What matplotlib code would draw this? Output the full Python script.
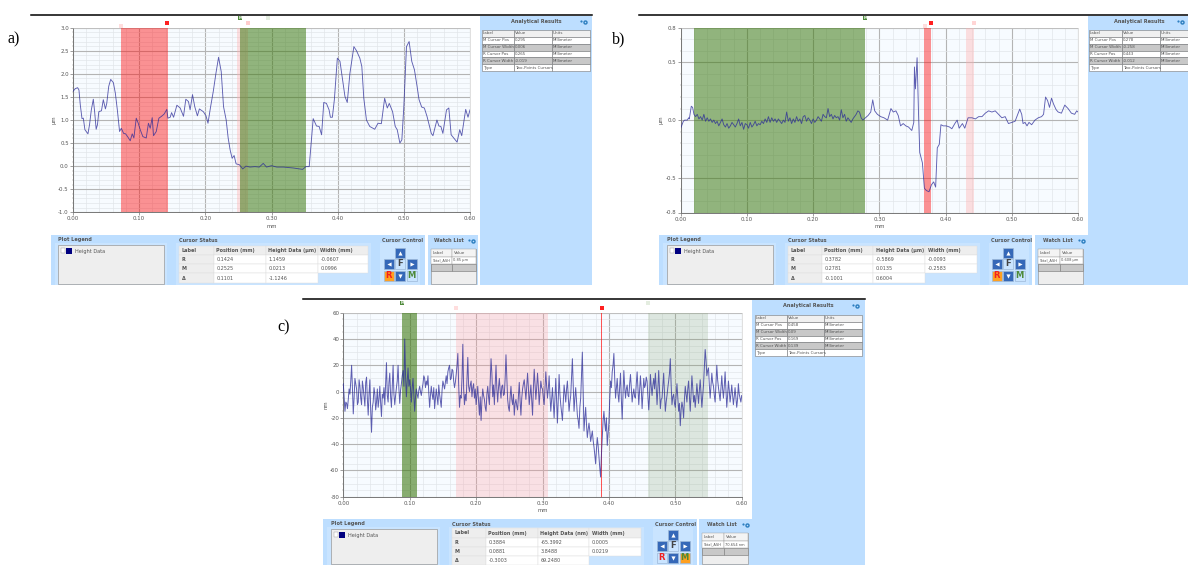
import numpy as np
import matplotlib
matplotlib.use("Agg")
import matplotlib.pyplot as plt
from matplotlib.patches import Rectangle

# ==============================
# Profile data
# ==============================
a_x = [0, .0035, .007, .009, .011, .0136, .0156, .018, .020, .0226, .025, .0277, .0307, .0327, .035, .037, .039, .043, .0458,
       .049, .051, .054, .057, .061, .064, .067, .0704, .073, .0765, .0795, .0825, .0865, .0895, .092, .0956, .0986, .1016,
       .1056, .1107, .114, .1167, .1197, .1217, .1258, .1298, .1338, .1378, .1418, .1434, .1469, .149, .152, .157, .162,
       .167, .1705, .1745, .177, .1806, .184, .188, .191, .197, .201, .204, .208, .212, .216, .220, .224, .2275, .2315,
       .2345, .2375, .2405, .2435, .2465, .2515, .2565, .2615, .2675, .275, .2815, .2875, .2925, .300, .308, .318, .333,
       .347, .352, .357, .363, .368, .372, .3757, .379, .383, .387, .389, .392, .395, .3995, .4035, .4075, .411, .4145,
       .4185, .4245, .4285, .4335, .4365, .4395, .4435, .4485, .456, .461, .466, .471, .475, .478, .483, .487, .490, .494,
       .497, .500, .504, .508, .512, .516, .520, .523, .527, .531, .535, .5415, .544, .55, .553, .556, .559, .5645, .568,
       .5715, .5755, .5805, .5845, .5875, .5935, .597, .600]
a_y = [1.62, 1.68, 1.70, 1.65, 1.33, 1.03, 1.04, .79, .75, .70, .90, 1.22, 1.45, 1.18, .80, .90, 1.18, 1.20, 1.44,
       1.24, 1.36, 1.73, 1.88, 1.81, 1.58, 1.22, .75, .82, .71, .70, .64, .55, .70, .61, 1.04, .93, .79,
       .64, .61, .93, .82, 1.05, .66, .75, 1.04, 1.08, 1.13, 1.23, 1.04, 1.06, 1.16, 1.06, 1.32, 1.26,
       1.08, 1.45, 1.40, 1.22, 1.55, 1.29, 1.09, 1.24, 1.18, 1.09, .93, 1.29, 1.62, 2.01, 2.36, 2.05, 1.29, 1.0,
       .61, .35, .17, .23, .05, .03, -.06, 0, -.02, -.01, -.02, .06, -.02, .01, -.02, -.02, -.04,
       -.07, -.01, -.01, 1.03, .87, .86, .68, 1.38, 1.36, 1.22, 1.06, 1.06, 1.44, 2.34, 2.27, 1.87, 1.51, 1.38,
       2.01, 2.59, 2.50, 2.34, 2.16, 1.47, 1.0, .86, .80, .93, .92, 1.47, 1.26, 1.36, 1.18, .86, .79, .50,
       .57, 1.29, 2.59, 2.70, 2.27, 2.09, 1.73, 1.44, 1.28, 1.26, 1.08, .71, .66, 1.0, .87, .86, .71, 1.22, 1.26,
       .68, .61, .52, .79, .66, 1.23, 1.06, 1.22]

b_x = [0, .002, .004, .006, .010, .012, .013, .015, .016, .018,
       .020, .0225, .025, .0275, .030, .0325, .035, .0375, .040, .0425, .045, .0475, .050, .0525, .055, .0575, .060, .0625, .065, .0675,
       .070, .0725, .075, .0775, .080, .0825, .085, .0875, .090, .0925, .095, .0975, .100, .1025, .105, .1075, .110, .1125, .115, .1175,
       .120, .1225, .125, .1275, .130, .1325, .135, .1375, .140, .1425, .145, .1475, .150, .1525, .155, .1575, .160, .1625, .165, .1675,
       .170, .1725, .175, .1775, .180, .1825, .185, .1875, .190, .1925, .195, .1975, .200, .2025, .205, .2075, .210, .2125, .215, .2175,
       .220, .2225, .225, .2275, .230, .2325, .235, .2375, .240, .2425, .245, .2475, .250, .2525, .255, .2575, .260, .2625, .265, .2675,
       .270, .2725, .275, .279, .283, .287, .29, .293, .297, .302, .307, .3125, .3175, .321, .325, .3285, .332, .336, .34, .344, .349,
       .352, .353, .3545, .357, .359, .361, .365, .368, .371, .375, .3787, .382, .385, .3875, .3905, .393, .3965, .401, .406, .4095,
       .414, .4175, .4205, .4255, .429, .434, .44, .445, .45, .455, .46, .465, .47, .475, .48, .485, .49, .495, .50, .505, .512,
       .515, .517, .52, .523, .526, .53, .535, .54, .545, .548, .551, .554, .557, .56, .563, .567, .57, .575, .58, .585, .59, .595, .598, .60]
b_y = [-.07, -.04, -.01, 0, 0, .02, .01, .08, .12, .11,
       .05, .03, .05, .01, .03, .0, .05, -.01, .02, -.01, .01, -.02, .0, -.03, -.01, -.05, -.02, .01, -.04, -.06,
       -.03, -.07, -.05, -.02, -.04, -.06, -.03, .01, -.05, -.02, -.08, -.03, -.04, -.07, -.02, -.06, -.04, -.01, -.05, -.03,
       -.04, -.01, -.03, .01, -.02, .03, -.02, .02, -.01, .01, -.02, .01, -.01, -.03, .0, -.02, .07, -.01, .02, -.03,
       .01, -.02, .03, -.01, .01, -.03, .03, .04, -.01, .02, .0, -.03, .01, -.02, .0, .03, .01, -.01, .05, .03,
       .02, .10, .03, .05, .01, .04, .02, .03, .0, .09, .02, .05, -.01, .02, .0, -.02, .01, .03, .05, .08,
       .07, .02, .0, .02, .04, .07, .175, .08, .05, .03, .02, .0, .10, .07, .08, .04, -.05, -.03, -.05, -.06, -.09,
       -.02, .46, .27, .54, .09, -.28, -.37, -.59, -.61, -.62, -.56, -.535, -.58, -.24, -.21, -.04, -.05, -.05, -.06, -.075,
       -.03, 0, -.07, -.03, -.07, .02, .02, .01, .03, .03, .06, .08, .07, .08, .05, .02, .03, -.03, -.02, -.01, .095,
       .05, -.03, -.02, -.05, -.02, -.04, .0, .02, .03, .05, .2, .17, .11, .19, .14, .09, .07, .06, .13, .1, .06, .05, .08, .07]

# one row per 0.05 mm, 0.00125 mm between values
c_y = [6, -4, -15, -8, -9, -13, -6, 2, -2, 8, 20, 3, -17, -5, 10, 6, 2, -10, -8, 9, 4, -5, -10, 8, 3, -4, -11, 7, 11, -6, -18, -2, 9, -14, -31, -12, -8, 3, -2, -14,
       -8, 2, -12, -6, 4, -9, -19, -2, -5, 3, -10, 6, 22, -3, -8, 7, 14, -4, -12, 3, 20, -2, -10, -3, 3, 8, 20, 2, -9, 1, 6, 12, 16, 4, 40, 12, -4, 8, 18, 4,
       9, 2, -8, 3, 10, -3, -15, -4, 2, -2, -5, 1, 4, 0, -3, 2, 6, 12, 10, 3, 8, 5, 12, -1, -12, -3, 4, -2, -6, 3, -13, -5, 2, -4, -10, 5, -2, -7, -12, 1,
       8, 5, 2, 7, 12, 6, 15, 18, 20, 9, 10, 17, 16, 8, 3, 7, 13, 20, 29, 5, -12, -3, -5, 10, 36, 2, -10, -2, -7, 9, 26, 4, 0, 5, 8, -4, 3, 6, -5, 2,
       -10, -3, 4, -8, -18, -4, -22, -7, 2, -3, -6, -12, -15, -2, 4, -4, -10, 8, 25, 14, -4, 5, -10, 6, 20, 2, -8, 3, 10, 1, -5, 4, 5, -3, -2, 10, 28, 11, -6, -12,
       -15, -4, 4, -6, -10, -2, -18, -9, -6, -11, -14, -3, 7, -7, -18, -5, 2, 6, 9, 1, -6, 4, 14, 3, -10, -2, 5, -7, -18, 2, 17, 5, -6, 3, 14, 4, -10, -1, 8, 3,
       2, -5, -10, 3, 15, 4, -5, 2, 12, -3, -15, -6, 3, -8, -20, -4, 10, -7, -24, -6, 13, -2, -10, -16, -22, -8, 5, -1, -8, 2, 8, -4, -15, -8, -3, 12, 25, 4, -15, -5,
       3, -8, -18, -22, -28, -12, -5, 12, 30, -2, -30, -20, -12, -25, -35, -29, -24, -30, -38, -34, -30, -37, -42, -48, -55, -44, -35, -41, -50, -58, -65, -48, -35, -22, -15, -24, -30, -20, -41, -32,
       -24, -6, 8, 3, 15, 20, 29, 10, -5, 3, 10, -2, -8, 4, 14, -6, -21, -3, 16, 4, -5, 2, 5, -3, -4, 6, 13, 2, -8, -2, 2, -4, -5, 6, 15, 2, -10, 1, 12, 2,
       -13, -2, 10, 3, 5, 11, 8, -4, -14, -3, 13, 4, -3, 5, 10, 2, 14, 3, -10, 2, 16, 1, -13, -6, -5, 4, 14, -2, -15, -8, -3, 3, 8, 14, 25, 5, -10, -4, -2, -9,
       -12, -3, 6, -5, -15, -9, -26, -14, -8, -12, -20, -6, 4, -2, -8, 2, 8, -4, -15, -2, 12, 3, -8, -3, -12, -4, 6, -2, -9, 1, 9, -2, -12, -3, 5, 18, 32, 24, 12, 16,
       18, 5, -5, 4, 14, 7, 4, -3, -8, 6, 20, 9, 3, -2, -7, 3, 12, 2, -5, 4, 15, 2, -12, -3, 8, 1, -8, -2, 5, -3, -10, -4, 3, -5, -12, -6, 6, -2, -5, -8, -3]
c_x = np.arange(len(c_y)) * 0.00125

x_ticks = [0, .1, .2, .3, .4, .5, .6]
a_yticks = [-1, -.5, 0, .5, 1, 1.5, 2, 2.5, 3]
b_yticks = [-.8, -.5, 0, .5, .8]
c_yticks = [-80, -60, -40, -20, 0, 20, 40, 60]

# cursor bands: start, end
a_red, a_pink, a_green = (.0725, .1435), (.248, .265), (.2525, .3525)
b_red, b_pink, b_green = (.368, .3787), (.4305, .443), (.02, .279)
c_red, c_pink, c_green, c_pale = (.3880, .3892), (.169, .308), (.0879, .1105), (.459, .549)

# text of the tool panels
result_labels = ["M Cursor Pos", "M Cursor Width", "R Cursor Pos", "R Cursor Width", "Type"]
a_results = ["0.295", "0.006", "0.265", "-0.019", "Two-Points Cursors"]
b_results = ["0.278", "-0.258", "0.443", "-0.012", "Two-Points Cursors"]
c_results = ["0.458", "0.09", "0.169", "0.139", "Two-Points Cursors"]
a_status = [["0.1424", "1.1459", "-0.0607"], ["0.2525", "0.0213", "0.0996"], ["0.1101", "-1.1246", ""]]
b_status = [["0.3782", "-0.5869", "-0.0093"], ["0.2781", "0.0135", "-0.2583"], ["-0.1001", "0.6004", ""]]
c_status = [["0.3884", "-65.3992", "0.0005"], ["0.0881", "3.8488", "0.0219"], ["-0.3003", "69.2480", ""]]

PANEL = "#BDDEFF"
TXT = "#555555"
fig = plt.figure(figsize=(11.88, 5.65), dpi=100)
ov = fig.add_axes([0, 0, 1, 1])
ov.set_xlim(0, 1188)
ov.set_ylim(565, 0)
ov.axis("off")


def box(x0, y0, x1, y1, fc, ec="none", lw=0.4):
    ov.add_patch(Rectangle((x0, y0), x1 - x0, y1 - y0, fc=fc, ec=ec, lw=lw))


def label(x, y, s, size=3.6, weight="normal", ha="left", color=TXT, family="DejaVu Sans"):
    ov.text(x, y, s, fontsize=size, fontweight=weight, ha=ha, va="center", color=color, family=family)


def gear(x, y):
    ov.plot([x], [y], "o", ms=3.2, color="#2E7FC0", mew=0)
    ov.plot([x], [y], "o", ms=1.1, color="#BDDEFF", mew=0)
    ov.plot([x - 4], [y - 1], "o", ms=1.6, color="#2E7FC0", mew=0)


# ==============================
# Chart panel
# ==============================
def profile(rect, x, y, ylim, yticks, minor, unit, bands, lw=0.65):
    l, t, r, b = rect
    ax = fig.add_axes([l / 1188, 1 - b / 565, (r - l) / 1188, (b - t) / 565])
    ax.set_facecolor("#F7FBFF")
    for lo, hi, col, al in bands:
        ax.axvspan(lo, hi, color=col, alpha=al, lw=0, zorder=3)
    ax.plot(x, y, color="#2A2A98", lw=lw, alpha=0.75, zorder=4)
    ax.set_xlim(0, 0.6)
    ax.set_ylim(*ylim)
    ax.set_xticks(x_ticks)
    ax.set_xticklabels([f"{v:.2f}" for v in x_ticks])
    ax.set_xticks(np.arange(0, 0.601, 0.02), minor=True)
    ax.set_yticks(yticks)
    if unit == "nm":
        ax.set_yticklabels([f"{v:.0f}" for v in yticks])
    else:
        ax.set_yticklabels([f"{v:.1f}" for v in yticks])
    ax.set_yticks(np.arange(ylim[0], ylim[1] + minor / 2, minor), minor=True)
    ax.grid(which="major", color="#B4B4B4", lw=0.8, zorder=1)
    ax.grid(which="minor", color="#E2E6EA", lw=0.5, zorder=1)
    ax.set_axisbelow(True)
    ax.tick_params(which="major", labelsize=3.9, length=2, width=0.4, pad=1, colors="#555555")
    ax.tick_params(which="minor", length=1, width=0.3, colors="#888888")
    for side in ["top", "right"]:
        ax.spines[side].set_color("#C8C8C8")
        ax.spines[side].set_linewidth(0.4)
    for side in ["left", "bottom"]:
        ax.spines[side].set_color("#777777")
        ax.spines[side].set_linewidth(0.7)
    ax.set_xlabel("mm", fontsize=3.8, color="#555555", labelpad=1.5)
    ax.set_ylabel(unit, fontsize=3.8, color="#555555", labelpad=1.5)
    return ax


# ==============================
# Tool panels around each chart
# ==============================
def results_panel(x0, y0, x1, y1, cols, top, values):
    box(x0, y0, x1, y1, PANEL)
    label((cols[0] + cols[3]) / 2, y0 + 6, "Analytical Results", 3.6, "bold", "center")
    gear(min(x1 - 6, cols[3] - 5), y0 + 5.5)
    h = 6.85
    rows = [["Label", "Value", "Units"]]
    for i, (n, v) in enumerate(zip(result_labels, values)):
        rows.append([n, v, "Millimeter" if i < 4 else ""])
    for i, row in enumerate(rows):
        fc = "#C8C8C8" if i in (2, 4) else "white"
        if i == 0:
            fc = "#F0F0F0"
        for j, s in enumerate(row):
            box(cols[j], top + i * h, cols[j + 1], top + (i + 1) * h, fc, "#777777", 0.4)
            label(cols[j] + 0.8, top + (i + 0.5) * h, s, 2.85)


def button(x, y, s=None, col="#3568B8", fc="#3568B8", mark=None):
    box(x - 5, y - 5, x + 5, y + 5, fc, "#9DB8D8", 0.5)
    if mark:
        ov.plot([x], [y], marker=mark, ms=3, color="white", mew=0)
    if s:
        label(x, y, s, 6, "bold", "center", col)


def bottom_panel(geo, y0, y1, rows, status, header, watch, hot):
    main0, main1, leg0, leg1, tcols, ctl, btn, w0, w1, wt0, wsplit, wt1 = geo
    box(main0, y0, main1, y1, PANEL)
    box(w0, y0, w1, y1, PANEL)
    # inner frames
    box(main0 + 4, y0 + 8, leg1 + 3, y1, "#C9E4FF")
    box(tcols[0] - 3, y0 + 8, tcols[4] + 3, y1, "#C9E4FF")
    box(ctl - 2, y0 + 8, ctl + 38, y1, "#C9E4FF")
    label(leg0, y0 + 5, "Plot Legend", 3.6, "bold")
    box(leg0, y0 + 10, leg1, y1 - 1, "#EEEEEE", "#999999", 0.5)
    box(leg0 + 3, y0 + 13, leg0 + 7, y0 + 18, "white", "#999999", 0.3)
    box(leg0 + 8, y0 + 12.5, leg0 + 14, y0 + 18.5, "#000080")
    label(leg0 + 17, y0 + 16, "Height Data", 3.6)
    # cursor status table
    label(tcols[0], y0 + 5, "Cursor Status", 3.6, "bold")
    heads = ["Label", "Position (mm)", header, "Width (mm)"]
    for j, s in enumerate(heads):
        box(tcols[j], rows[0], tcols[j + 1], rows[1], "#EEEEEE", "#DDDDDD", 0.3)
        label(tcols[j] + 2.5, (rows[0] + rows[1]) / 2, s, 3.5, "bold")
    for i, (name, vals) in enumerate(zip(["R", "M", "Δ"], status)):
        box(tcols[0], rows[i + 1], tcols[1], rows[i + 2], "#EEEEEE", "#DDDDDD", 0.3)
        label(tcols[0] + 2.5, (rows[i + 1] + rows[i + 2]) / 2, name, 3.5, "bold")
        for j, s in enumerate(vals):
            if s:
                box(tcols[j + 1], rows[i + 1], tcols[j + 2], rows[i + 2], "white", "#DDDDDD", 0.3)
                label(tcols[j + 1] + 2.5, (rows[i + 1] + rows[i + 2]) / 2, s, 3.5)
    # cursor control
    label(ctl, y0 + 5, "Cursor Control", 3.6, "bold")
    cy = rows[0] + 6.5
    button(btn, cy, mark="^")
    button(btn - 11.5, cy + 11.5, mark="<")
    button(btn, cy + 11.5, "F", "#444444", "#C9E4FF")
    button(btn + 11.5, cy + 11.5, mark=">")
    button(btn, cy + 23, mark="v")
    button(btn - 11.5, cy + 23, "R", "#F02020", "#FFA020" if hot == "R" else "#C9E4FF")
    button(btn + 11.5, cy + 23, "M", "#4E8A3A", "#FFA020" if hot == "M" else "#C9E4FF")
    # watch list
    label((w0 + w1) / 2 - 4, y0 + 5, "Watch List", 3.6, "bold", "center")
    gear(w1 - 5, y0 + 5.5)
    box(wt0, y0 + 14, wt1, y1 - 1, "#EEEEEE", "#999999", 0.5)
    wr = [y0 + 14, y0 + 22, y0 + 29, y0 + 36]
    box(wt0, wr[0], wsplit, wr[1], "#F4F4F4", "#999999", 0.3)
    box(wsplit, wr[0], wt1, wr[1], "#F4F4F4", "#999999", 0.3)
    box(wt0, wr[1], wsplit, wr[2], "white", "#999999", 0.3)
    box(wsplit, wr[1], wt1, wr[2], "white", "#999999", 0.3)
    box(wt0, wr[2], wsplit, wr[3], "#C8C8C8", "#888888", 0.5)
    box(wsplit, wr[2], wt1, wr[3], "#C8C8C8", "#888888", 0.5)
    label(wt0 + 2, (wr[0] + wr[1]) / 2, "Label", 3.0)
    label(wsplit + 2, (wr[0] + wr[1]) / 2, "Value", 3.0)
    label(wt0 + 0.6, (wr[1] + wr[2]) / 2, "Total_ASH", 2.6)
    label(wsplit + 0.6, (wr[1] + wr[2]) / 2, watch, 2.6)


def cursor_marks(items):
    for x, y, col, s in items:
        box(x - 2, y - 2, x + 2, y + 2, col)
        if s:
            label(x, y, s, 2.6, "bold", "center", "white")


# ==============================
# Build the figure
# ==============================
# a)
ov.plot([31, 592], [15, 15], color="black", lw=1.1)
label(8, 39, "a)", 11.5, color="black", family="Liberation Serif")
results_panel(480, 16, 592, 285, [482, 514, 552, 590], 30, a_results)
bottom_panel((51, 425, 58, 164, [179, 214, 266, 318, 368], 382, 400, 428, 478, 431, 452, 476),
             235, 285, [246, 255, 264, 273, 283], a_status, "Height Data (µm)", "0.85 µm", "R")
profile((73, 27.7, 470, 212.3), a_x, a_y, (-1, 3), a_yticks, 0.1, "µm",
        [(a_red[0], a_red[1], "#FF1010", .45), (a_pink[0], a_pink[1], "#FFB0B0", .4),
         (a_green[0], a_green[1], "#3E7A12", .55)])
cursor_marks([(167, 22.5, "#FF2020", ""), (121, 26, "#FFDDDD", ""), (240, 18, "#4E8A3A", "M"),
              (248, 23, "#FFCCCC", ""), (268, 18, "#E4EDE0", "")])

# b)
ov.plot([639, 1188], [15, 15], color="black", lw=1.1)
label(612, 39, "b)", 11.5, color="black", family="Liberation Serif")
results_panel(1088, 16, 1188, 285, [1089, 1122, 1160, 1190], 30, b_results)
bottom_panel((659, 1032, 667, 773, [788, 822, 873, 925, 977], 991, 1008, 1035, 1088, 1038, 1060, 1083),
             235, 285, [246, 255, 264, 273, 283], b_status, "Height Data (µm)", "0.608 µm", "R")
profile((680.7, 27.7, 1078, 212.5), b_x, b_y, (-.8, .8), b_yticks, 0.1, "µm",
        [(b_red[0], b_red[1], "#FF1010", .45), (b_pink[0], b_pink[1], "#FFB0B0", .4),
         (b_green[0], b_green[1], "#3E7A12", .55)])
cursor_marks([(865, 18, "#4E8A3A", "M"), (931, 22.5, "#FF2020", ""), (925, 26, "#FFDDDD", ""),
              (974, 22.5, "#FFD5D5", "")])

# c)
ov.plot([303, 865], [299, 299], color="black", lw=1.1)
label(277, 327, "c)", 11.5, color="black", family="Liberation Serif")
results_panel(752, 300, 865, 565, [755, 787, 824, 862], 315, c_results)
bottom_panel((323, 697, 331, 437, [452, 486, 538, 589, 641], 655, 673, 699, 752, 702, 724, 748),
             519, 565, [528, 538, 547, 556, 565], c_status, "Height Data (nm)", "70.654 nm", "M")
profile((343.3, 312.7, 741.7, 496.7), c_x, c_y, (-80, 60), c_yticks, 5, "nm",
        [(c_red[0], c_red[1], "#FF1010", .7), (c_pink[0], c_pink[1], "#FF9AA0", .28),
         (c_green[0], c_green[1], "#3E7A12", .6), (c_pale[0], c_pale[1], "#7F9F70", .22)], lw=0.7)
cursor_marks([(402, 303, "#4E8A3A", "M"), (602, 308, "#FF2020", ""), (456, 308, "#FFDDDD", ""),
              (648, 303, "#E4EDE0", "")])

fig.savefig("out.png", dpi=100)
